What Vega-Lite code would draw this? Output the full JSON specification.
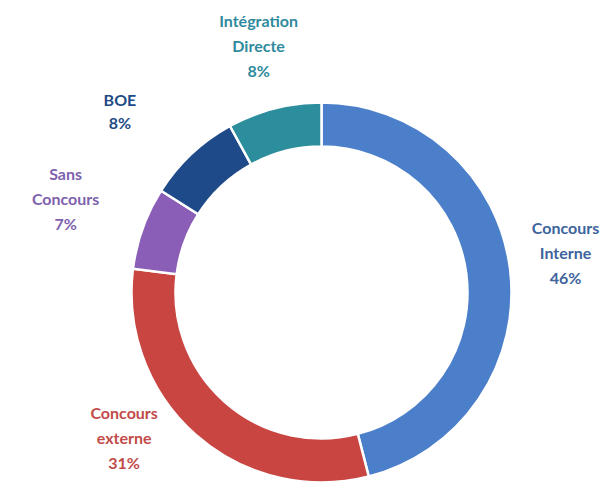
{
  "$schema": "https://vega.github.io/schema/vega-lite/v6.json",
  "autosize": {"type": "none"},
  "width": 581,
  "height": 383,
  "padding": {"left": 31, "top": 101, "right": 0, "bottom": 0},
  "background": "white",
  "config": {"view": {"stroke": null}},
  "data": {
    "values": [
      {"ordre": 1, "categorie": "Concours Interne", "part": 46, "etiquette": "Concours\nInterne\n46%"},
      {"ordre": 2, "categorie": "Concours externe", "part": 31, "etiquette": "Concours\nexterne\n31%"},
      {"ordre": 3, "categorie": "Sans Concours", "part": 7, "etiquette": "Sans\nConcours\n7%"},
      {"ordre": 4, "categorie": "BOE", "part": 8, "etiquette": "BOE\n8%"},
      {"ordre": 5, "categorie": "Intégration Directe", "part": 8, "etiquette": "Intégration\nDirecte\n8%"}
    ]
  },
  "encoding": {
    "theta": {"field": "part", "type": "quantitative", "stack": true},
    "order": {"field": "ordre", "type": "quantitative"}
  },
  "layer": [
    {
      "mark": {"type": "arc", "innerRadius": 146, "outerRadius": 190, "stroke": "white", "strokeWidth": 2.5},
      "encoding": {
        "color": {
          "field": "categorie",
          "type": "nominal",
          "legend": null,
          "scale": {
            "domain": ["Concours Interne", "Concours externe", "Sans Concours", "BOE", "Intégration Directe"],
            "range": ["#4b7fca", "#c94541", "#8a5db6", "#1e4a89", "#2c8e9d"]
          }
        }
      }
    },
    {
      "mark": {"type": "text", "radius": 246, "dy": -33, "align": "center", "baseline": "middle", "lineBreak": "\n", "lineHeight": 25, "font": "Lato", "fontSize": 16, "fontWeight": "bold", "color": "#3d649c"},
      "encoding": {
        "text": {"condition": {"test": "datum.ordre === 1", "field": "etiquette"}, "value": ""}
      }
    },
    {
      "mark": {"type": "text", "radius": 244, "dx": -36, "dy": -62, "align": "center", "baseline": "middle", "lineBreak": "\n", "lineHeight": 25, "font": "Lato", "fontSize": 16, "fontWeight": "bold", "color": "#c24b48"},
      "encoding": {
        "text": {"condition": {"test": "datum.ordre === 2", "field": "etiquette"}, "value": ""}
      }
    },
    {
      "mark": {"type": "text", "radius": 272, "dy": -25, "align": "center", "baseline": "middle", "lineBreak": "\n", "lineHeight": 25, "font": "Lato", "fontSize": 16, "fontWeight": "bold", "color": "#7e62ad"},
      "encoding": {
        "text": {"condition": {"test": "datum.ordre === 3", "field": "etiquette"}, "value": ""}
      }
    },
    {
      "mark": {"type": "text", "radius": 255, "dx": -27, "dy": -6, "align": "center", "baseline": "middle", "lineBreak": "\n", "lineHeight": 23, "font": "Lato", "fontSize": 16, "fontWeight": "bold", "color": "#1f4b86"},
      "encoding": {
        "text": {"condition": {"test": "datum.ordre === 4", "field": "etiquette"}, "value": ""}
      }
    },
    {
      "mark": {"type": "text", "radius": 253, "dy": -25, "align": "center", "baseline": "middle", "lineBreak": "\n", "lineHeight": 25, "font": "Lato", "fontSize": 16, "fontWeight": "bold", "color": "#2f8a9e"},
      "encoding": {
        "text": {"condition": {"test": "datum.ordre === 5", "field": "etiquette"}, "value": ""}
      }
    }
  ]
}
